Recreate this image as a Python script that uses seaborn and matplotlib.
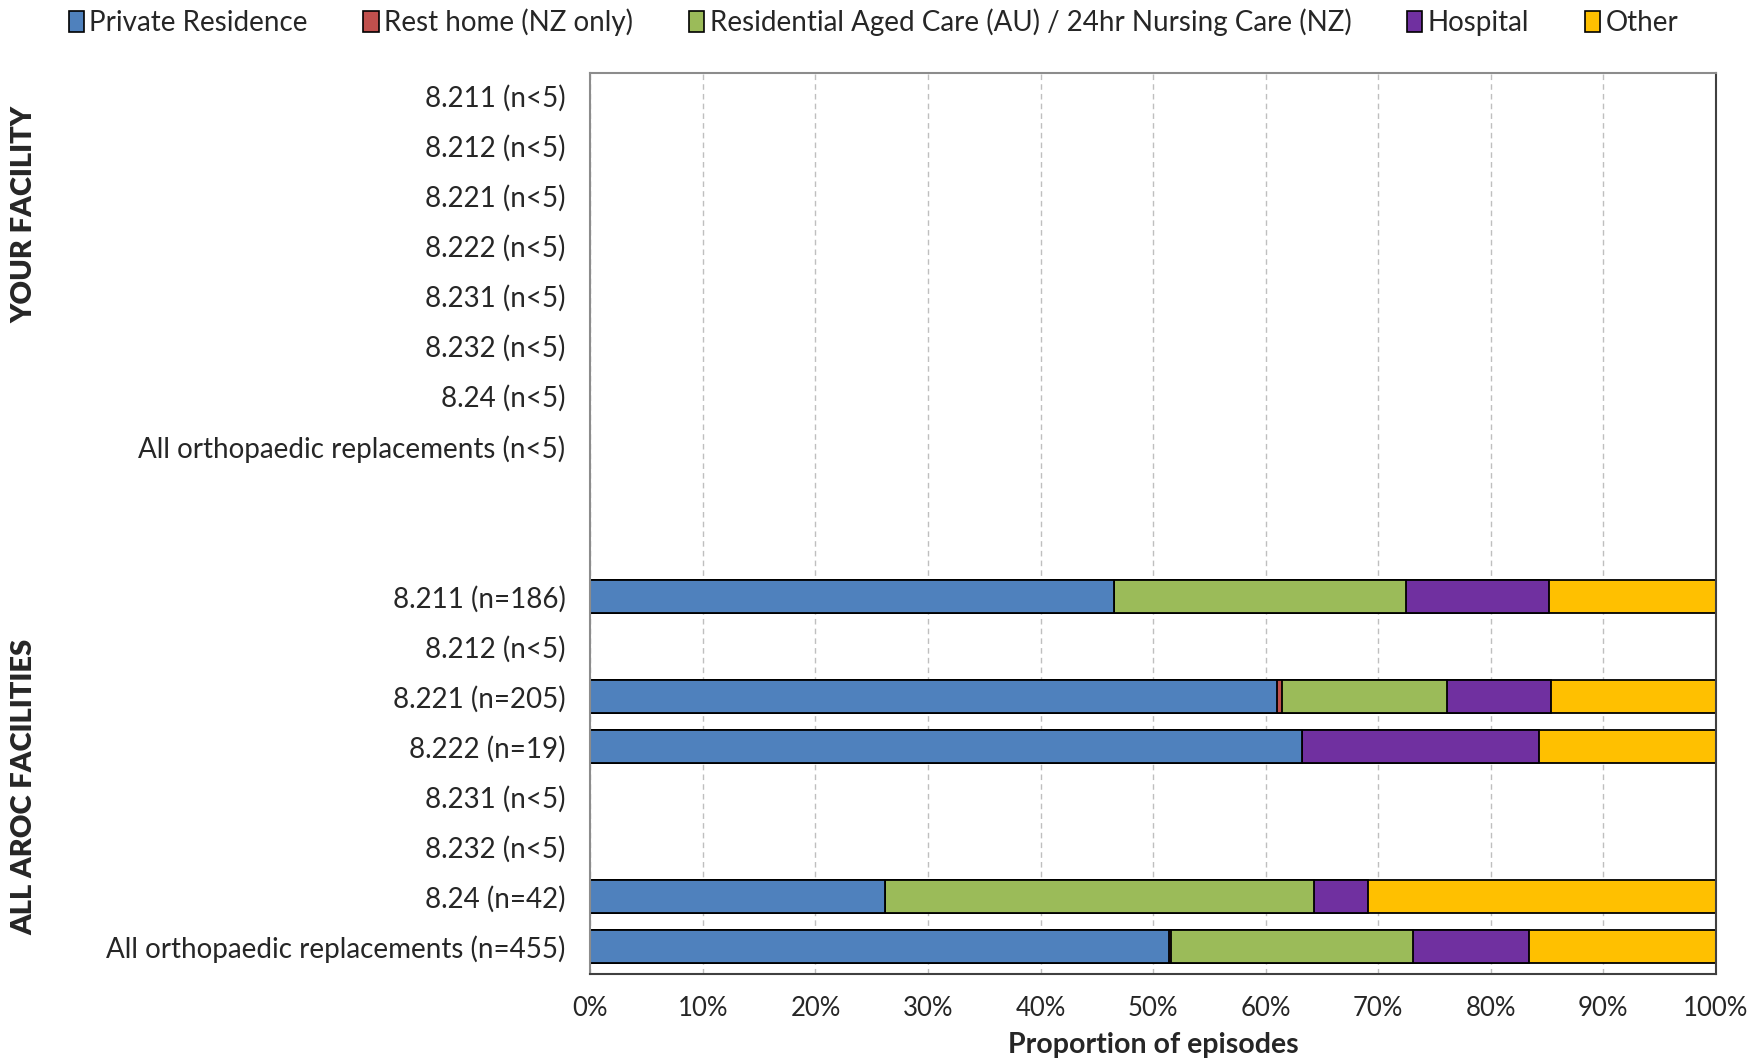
import matplotlib
matplotlib.use("Agg")
import matplotlib.pyplot as plt
from matplotlib.patches import Patch
from matplotlib.transforms import blended_transform_factory
import numpy as np
import pandas as pd
import seaborn as sns

# row labels, top to bottom
your_labels = ["8.211 (n<5)", "8.212 (n<5)", "8.221 (n<5)", "8.222 (n<5)",
               "8.231 (n<5)", "8.232 (n<5)", "8.24 (n<5)",
               "All orthopaedic replacements (n<5)"]
aroc_labels = ["8.211 (n=186)", "8.212 (n<5)", "8.221 (n=205)", "8.222 (n=19)",
               "8.231 (n<5)", "8.232 (n<5)", "8.24 (n=42)",
               "All orthopaedic replacements (n=455)"]

# rows that actually have data (all AROC facilities), percent of episodes
bar_rows = ["aroc_0", "aroc_2", "aroc_3", "aroc_6", "aroc_7"]
private = [46.5, 61.0, 63.2, 26.2, 51.4]
rest_home = [0.0, 0.5, 0.0, 0.0, 0.2]
residential = [26.0, 14.6, 0.0, 38.1, 21.5]
hospital = [12.7, 9.3, 21.1, 4.8, 10.3]
other = [14.8, 14.6, 15.7, 30.9, 16.6]

series_names = ["Private Residence", "Rest home (NZ only)",
                "Residential Aged Care (AU) / 24hr Nursing Care (NZ)",
                "Hospital", "Other"]
colors = ["#4F81BD", "#C0504D", "#9BBB59", "#7030A0", "#FFC000"]

row_keys = ([f"your_{i}" for i in range(8)] + ["gap_0", "gap_1"]
            + [f"aroc_{i}" for i in range(8)])
tick_labels = your_labels + ["", ""] + aroc_labels

sns.set_theme(style="white")
plt.rcParams["font.family"] = ["Lato", "DejaVu Sans"]

df = pd.DataFrame({"row": bar_rows, series_names[0]: private,
                   series_names[1]: rest_home, series_names[2]: residential,
                   series_names[3]: hospital, series_names[4]: other})
cum = df[series_names].cumsum(axis=1)

fig = plt.figure(figsize=(17.47, 10.60), dpi=100)
ax = fig.add_axes([0.338, 0.081, 0.644, 0.8497])

# stacked bars: draw cumulative totals from the longest down
for name, col in reversed(list(zip(series_names, colors))):
    sns.barplot(x=cum[name], y=df["row"], order=row_keys, orient="h",
                color=col, saturation=1, edgecolor="black", linewidth=1.3,
                width=0.66, errorbar=None, ax=ax)

ax.set_xlim(0, 100)
ax.set_ylim(17.55, -0.45)
ax.set_xticks(np.arange(0, 101, 10))
ax.set_xticklabels([f"{v}%" for v in range(0, 101, 10)], fontsize=18.5)
ax.set_yticks(range(len(row_keys)))
ax.set_yticklabels(tick_labels, fontsize=20)
ax.tick_params(axis="y", length=0, pad=18)
ax.tick_params(axis="x", length=0, pad=16)
ax.set_ylabel("")
ax.set_xlabel("Proportion of episodes", fontsize=20.5, fontweight="bold", labelpad=8)

ax.xaxis.grid(True, linestyle=(0, (4, 3)), color="#BFBFBF", linewidth=1)
ax.yaxis.grid(False)
ax.set_axisbelow(True)
for side in ["left", "top"]:
    ax.spines[side].set_color("#8C8C8C")
    ax.spines[side].set_linewidth(1.5)
for side in ["right", "bottom"]:
    ax.spines[side].set_color("#404040")
    ax.spines[side].set_linewidth(1.5)

# group labels
trans = blended_transform_factory(fig.transFigure, ax.transData)
ax.text(0.014, 2.37, "YOUR FACILITY", transform=trans, rotation=90,
        ha="center", va="center", fontsize=21, fontweight="heavy")
ax.text(0.014, 13.8, "ALL AROC FACILITIES", transform=trans, rotation=90,
        ha="center", va="center", fontsize=21, fontweight="heavy")

handles = [Patch(facecolor=c, edgecolor="black", linewidth=1.2) for c in colors]
fig.legend(handles, series_names, loc="center", bbox_to_anchor=(0.5, 0.979),
           ncol=5, frameon=False, fontsize=20, handlelength=0.55,
           handleheight=0.8, handletextpad=0.2, columnspacing=2.0)

fig.savefig("out.png", dpi=100)
